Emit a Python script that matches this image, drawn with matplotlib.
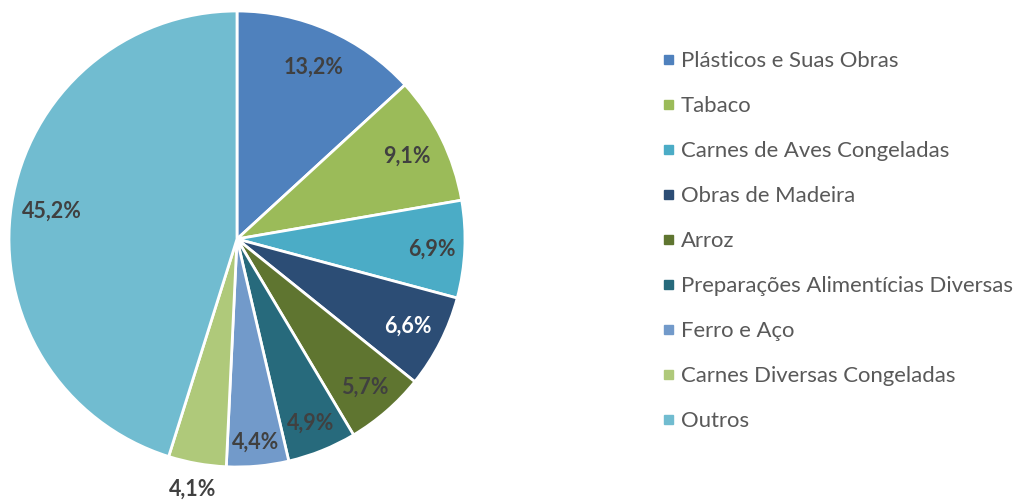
import matplotlib.pyplot as plt
from matplotlib.patches import Rectangle
import numpy as np

categories = ["Plásticos e Suas Obras", "Tabaco", "Carnes de Aves Congeladas",
              "Obras de Madeira", "Arroz", "Preparações Alimentícias Diversas",
              "Ferro e Aço", "Carnes Diversas Congeladas", "Outros"]
shares = [13.2, 9.1, 6.9, 6.6, 5.7, 4.9, 4.4, 4.1, 45.2]
colors = ["#4F81BD", "#9BBB59", "#4BACC6", "#2C4D75", "#5F7530",
          "#276A7C", "#729ACA", "#AFC97A", "#71BCD0"]

# distance of each percent label from the centre (fraction of radius)
label_r = [0.83, 0.83, 0.855, 0.84, 0.855, 0.865, 0.89, 1.11, 0.82]
label_col = ["#404040"] * 9
label_col[3] = "white"

W, H = 1019, 502
fig = plt.figure(figsize=(W / 100, H / 100), dpi=100)
cx, cy, R = 237, 240, 228
ax = fig.add_axes([(cx - R) / W, (H - cy - R) / H, 2 * R / W, 2 * R / H])

wedges, _ = ax.pie(shares, colors=colors, startangle=90, counterclock=False,
                   wedgeprops=dict(edgecolor="white", linewidth=2))
ax.set_xlim(-1, 1)
ax.set_ylim(-1, 1)
ax.set_aspect("equal")
ax.axis("off")

font = "Lato"
for w, v, r, c in zip(wedges, shares, label_r, label_col):
    ang = np.deg2rad((w.theta1 + w.theta2) / 2)
    ax.text(r * np.cos(ang), r * np.sin(ang), "{:.1f}%".format(v).replace(".", ","),
            ha="center", va="center", fontsize=15.5, fontweight="bold",
            color=c, family=font)

# legend
for i, (lab, col) in enumerate(zip(categories, colors)):
    y = 60 + i * 45.0
    fig.patches.append(Rectangle((664 / W, 1 - (y + 4.5) / H), 9 / W, 9 / H,
                                 transform=fig.transFigure, color=col))
    fig.text(681 / W, 1 - (y + 1) / H, lab, ha="left", va="center",
             fontsize=15.9, color="#595959", family=font)

fig.savefig("out.png", dpi=100)
